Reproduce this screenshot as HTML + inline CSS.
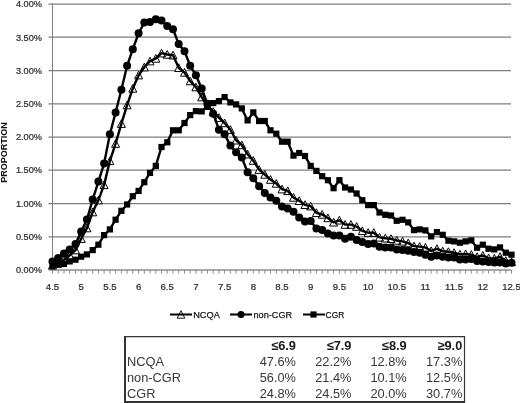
<!DOCTYPE html>
<html><head><meta charset="utf-8"><style>
html,body{margin:0;padding:0;background:#fff;width:520px;height:403px;overflow:hidden;font-family:"Liberation Sans", sans-serif;}
svg{display:block;}
#w{will-change:transform;width:520px;height:403px;}
</style></head><body>
<div id="w"><svg width="520" height="403" viewBox="0 0 520 403">
<g stroke="#7e7e7e" stroke-width="1.25">
<line x1="48.5" y1="236.8" x2="511" y2="236.8"/><line x1="48.5" y1="203.5" x2="511" y2="203.5"/><line x1="48.5" y1="170.2" x2="511" y2="170.2"/><line x1="48.5" y1="137.0" x2="511" y2="137.0"/><line x1="48.5" y1="103.8" x2="511" y2="103.8"/><line x1="48.5" y1="70.5" x2="511" y2="70.5"/><line x1="48.5" y1="37.2" x2="511" y2="37.2"/><line x1="48.5" y1="4.0" x2="511" y2="4.0"/>
</g>
<g stroke="#8c8c8c" stroke-width="1.3">
<line x1="48.5" y1="270" x2="511" y2="270"/>
<path d="M52.5 270v3.6 M58.2 270v3.6 M64.0 270v3.6 M69.7 270v3.6 M75.5 270v3.6 M81.2 270v3.6 M86.9 270v3.6 M92.7 270v3.6 M98.4 270v3.6 M104.1 270v3.6 M109.9 270v3.6 M115.6 270v3.6 M121.4 270v3.6 M127.1 270v3.6 M132.8 270v3.6 M138.6 270v3.6 M144.3 270v3.6 M150.0 270v3.6 M155.8 270v3.6 M161.5 270v3.6 M167.2 270v3.6 M173.0 270v3.6 M178.7 270v3.6 M184.5 270v3.6 M190.2 270v3.6 M195.9 270v3.6 M201.7 270v3.6 M207.4 270v3.6 M213.2 270v3.6 M218.9 270v3.6 M224.6 270v3.6 M230.4 270v3.6 M236.1 270v3.6 M241.8 270v3.6 M247.6 270v3.6 M253.3 270v3.6 M259.1 270v3.6 M264.8 270v3.6 M270.5 270v3.6 M276.3 270v3.6 M282.0 270v3.6 M287.7 270v3.6 M293.5 270v3.6 M299.2 270v3.6 M305.0 270v3.6 M310.7 270v3.6 M316.4 270v3.6 M322.2 270v3.6 M327.9 270v3.6 M333.6 270v3.6 M339.4 270v3.6 M345.1 270v3.6 M350.9 270v3.6 M356.6 270v3.6 M362.3 270v3.6 M368.1 270v3.6 M373.8 270v3.6 M379.5 270v3.6 M385.3 270v3.6 M391.0 270v3.6 M396.8 270v3.6 M402.5 270v3.6 M408.2 270v3.6 M414.0 270v3.6 M419.7 270v3.6 M425.4 270v3.6 M431.2 270v3.6 M436.9 270v3.6 M442.7 270v3.6 M448.4 270v3.6 M454.1 270v3.6 M459.9 270v3.6 M465.6 270v3.6 M471.3 270v3.6 M477.1 270v3.6 M482.8 270v3.6 M488.6 270v3.6 M494.3 270v3.6 M500.0 270v3.6 M505.8 270v3.6 M511.5 270v3.6" stroke-width="1"/>
</g>
<line x1="52.5" y1="3.2" x2="52.5" y2="270" stroke="#808080" stroke-width="1"/>
<g font-family="Liberation Sans, sans-serif" font-size="9.2" fill="#2a2a2a" stroke="#2a2a2a" stroke-width="0.22" text-anchor="end">
<text x="42" y="273.2">0.00%</text><text x="42" y="239.9">0.50%</text><text x="42" y="206.7">1.00%</text><text x="42" y="173.4">1.50%</text><text x="42" y="140.2">2.00%</text><text x="42" y="107.0">2.50%</text><text x="42" y="73.7">3.00%</text><text x="42" y="40.5">3.50%</text><text x="42" y="7.2">4.00%</text>
</g>
<g font-family="Liberation Sans, sans-serif" font-size="9.6" fill="#2a2a2a" stroke="#2a2a2a" stroke-width="0.22" text-anchor="middle">
<text x="52.5" y="290.4">4.5</text><text x="81.2" y="290.4">5</text><text x="109.9" y="290.4">5.5</text><text x="138.6" y="290.4">6</text><text x="167.2" y="290.4">6.5</text><text x="195.9" y="290.4">7</text><text x="224.6" y="290.4">7.5</text><text x="253.3" y="290.4">8</text><text x="282.0" y="290.4">8.5</text><text x="310.7" y="290.4">9</text><text x="339.4" y="290.4">9.5</text><text x="368.1" y="290.4">10</text><text x="396.8" y="290.4">10.5</text><text x="425.4" y="290.4">11</text><text x="454.1" y="290.4">11.5</text><text x="482.8" y="290.4">12</text><text x="511.5" y="290.4">12.5</text>
</g>
<text transform="translate(7.3,152.6) rotate(-90)" font-family="Liberation Sans, sans-serif" font-size="9" font-weight="bold" fill="#111" text-anchor="middle">PROPORTION</text>
<g fill="#fff" stroke="#000" stroke-width="1"><path d="M52.5 261.3L56.5 269.0L48.5 269.0ZM58.2 259.4L62.2 267.1L54.2 267.1ZM64.0 256.0L68.0 263.7L60.0 263.7ZM69.7 251.4L73.7 259.1L65.7 259.1ZM75.5 246.1L79.5 253.8L71.5 253.8ZM81.2 234.7L85.2 242.4L77.2 242.4ZM86.9 224.1L90.9 231.8L82.9 231.8ZM92.7 208.1L96.7 215.8L88.7 215.8ZM98.4 196.2L102.4 203.9L94.4 203.9ZM104.1 180.9L108.1 188.6L100.1 188.6ZM109.9 156.9L113.9 164.6L105.9 164.6ZM115.6 139.7L119.6 147.3L111.6 147.3ZM121.4 119.7L125.4 127.4L117.4 127.4ZM127.1 101.1L131.1 108.8L123.1 108.8ZM132.8 84.5L136.8 92.2L128.8 92.2ZM138.6 71.2L142.6 78.9L134.6 78.9ZM144.3 63.2L148.3 70.9L140.3 70.9ZM150.0 57.2L154.0 64.9L146.0 64.9ZM155.8 54.5L159.8 62.2L151.8 62.2ZM161.5 49.2L165.5 56.9L157.5 56.9ZM167.2 50.5L171.2 58.2L163.2 58.2ZM173.0 51.2L177.0 58.9L169.0 58.9ZM178.7 63.8L182.7 71.5L174.7 71.5ZM184.5 68.5L188.5 76.2L180.5 76.2ZM190.2 77.1L194.2 84.8L186.2 84.8ZM195.9 83.1L199.9 90.8L191.9 90.8ZM201.7 93.1L205.7 100.8L197.7 100.8ZM207.4 101.7L211.4 109.4L203.4 109.4ZM213.2 107.7L217.2 115.4L209.2 115.4ZM218.9 113.7L222.9 121.4L214.9 121.4ZM224.6 119.0L228.6 126.7L220.6 126.7ZM230.4 125.7L234.4 133.4L226.4 133.4ZM236.1 136.3L240.1 144.0L232.1 144.0ZM241.8 141.0L245.8 148.7L237.8 148.7ZM247.6 150.3L251.6 158.0L243.6 158.0ZM253.3 156.6L257.3 164.3L249.3 164.3ZM259.1 165.7L263.1 173.4L255.1 173.4ZM264.8 170.5L268.8 178.2L260.8 178.2ZM270.5 175.6L274.5 183.3L266.5 183.3ZM276.3 179.6L280.3 187.2L272.3 187.2ZM282.0 185.2L286.0 192.9L278.0 192.9ZM287.7 186.9L291.7 194.6L283.7 194.6ZM293.5 193.5L297.5 201.2L289.5 201.2ZM299.2 196.8L303.2 204.5L295.2 204.5ZM305.0 200.8L309.0 208.5L301.0 208.5ZM310.7 202.2L314.7 209.9L306.7 209.9ZM316.4 208.8L320.4 216.5L312.4 216.5ZM322.2 210.5L326.2 218.2L318.2 218.2ZM327.9 214.0L331.9 221.7L323.9 221.7ZM333.6 218.3L337.6 226.0L329.6 226.0ZM339.4 216.3L343.4 224.0L335.4 224.0ZM345.1 220.6L349.1 228.3L341.1 228.3ZM350.9 220.6L354.9 228.3L346.9 228.3ZM356.6 222.6L360.6 230.3L352.6 230.3ZM362.3 226.9L366.3 234.6L358.3 234.6ZM368.1 228.7L372.1 236.4L364.1 236.4ZM373.8 228.7L377.8 236.4L369.8 236.4ZM379.5 233.4L383.5 241.1L375.5 241.1ZM385.3 234.3L389.3 242.0L381.3 242.0ZM391.0 234.8L395.0 242.5L387.0 242.5ZM396.8 236.5L400.8 244.2L392.8 244.2ZM402.5 237.4L406.5 245.1L398.5 245.1ZM408.2 239.1L412.2 246.8L404.2 246.8ZM414.0 242.1L418.0 249.8L410.0 249.8ZM419.7 242.6L423.7 250.3L415.7 250.3ZM425.4 243.5L429.4 251.2L421.4 251.2ZM431.2 246.9L435.2 254.6L427.2 254.6ZM436.9 244.8L440.9 252.5L432.9 252.5ZM442.7 247.2L446.7 254.9L438.7 254.9ZM448.4 247.8L452.4 255.5L444.4 255.5ZM454.1 248.7L458.1 256.4L450.1 256.4ZM459.9 250.4L463.9 258.1L455.9 258.1ZM465.6 250.0L469.6 257.7L461.6 257.7ZM471.3 250.6L475.3 258.3L467.3 258.3ZM477.1 252.8L481.1 260.5L473.1 260.5ZM482.8 251.5L486.8 259.2L478.8 259.2ZM488.6 254.1L492.6 261.8L484.6 261.8ZM494.3 254.5L498.3 262.2L490.3 262.2ZM500.0 252.8L504.0 260.5L496.0 260.5ZM505.8 256.7L509.8 264.4L501.8 264.4ZM511.5 258.0L515.5 265.7L507.5 265.7Z"/></g>
<polyline points="52.5,265.3 58.2,263.4 64.0,260.0 69.7,255.4 75.5,250.1 81.2,238.7 86.9,228.1 92.7,212.1 98.4,200.2 104.1,184.9 109.9,160.9 115.6,143.7 121.4,123.7 127.1,105.1 132.8,88.5 138.6,75.2 144.3,67.2 150.0,61.2 155.8,58.5 161.5,53.2 167.2,54.5 173.0,55.2 178.7,67.8 184.5,72.5 190.2,81.1 195.9,87.1 201.7,97.1 207.4,105.7 213.2,111.7 218.9,117.7 224.6,123.0 230.4,129.7 236.1,140.3 241.8,145.0 247.6,154.3 253.3,160.6 259.1,169.7 264.8,174.5 270.5,179.6 276.3,183.6 282.0,189.2 287.7,190.9 293.5,197.5 299.2,200.8 305.0,204.8 310.7,206.2 316.4,212.8 322.2,214.5 327.9,218.0 333.6,222.3 339.4,220.3 345.1,224.6 350.9,224.6 356.6,226.6 362.3,230.9 368.1,232.7 373.8,232.7 379.5,237.4 385.3,238.3 391.0,238.8 396.8,240.5 402.5,241.4 408.2,243.1 414.0,246.1 419.7,246.6 425.4,247.5 431.2,250.9 436.9,248.8 442.7,251.2 448.4,251.8 454.1,252.7 459.9,254.4 465.6,254.0 471.3,254.6 477.1,256.8 482.8,255.5 488.6,258.1 494.3,258.5 500.0,256.8 505.8,260.7 511.5,262.0" fill="none" stroke="#000" stroke-width="2.4" stroke-linejoin="round"/>
<polyline points="52.5,261.4 58.2,258.0 64.0,253.4 69.7,249.4 75.5,244.1 81.2,231.4 86.9,219.5 92.7,199.5 98.4,181.6 104.1,163.6 109.9,134.3 115.6,112.4 121.4,89.8 127.1,65.8 132.8,49.2 138.6,33.3 144.3,22.6 150.0,22.0 155.8,19.3 161.5,20.6 167.2,25.9 173.0,29.3 178.7,43.9 184.5,51.2 190.2,65.8 195.9,75.2 201.7,88.5 207.4,103.8 213.2,113.7 218.9,129.7 224.6,134.3 230.4,145.6 236.1,152.3 241.8,157.6 247.6,172.2 253.3,178.2 259.1,186.2 264.8,192.9 270.5,197.5 276.3,200.8 282.0,206.5 287.7,208.5 293.5,211.8 299.2,217.5 305.0,221.5 310.7,221.1 316.4,228.4 322.2,230.1 327.9,233.4 333.6,235.4 339.4,235.4 345.1,238.7 350.9,236.8 356.6,240.1 362.3,242.1 368.1,244.1 373.8,243.4 379.5,246.7 385.3,247.4 391.0,247.4 396.8,249.4 402.5,250.1 408.2,250.7 414.0,252.0 419.7,252.7 425.4,254.7 431.2,256.7 436.9,255.4 442.7,256.7 448.4,257.4 454.1,257.4 459.9,259.4 465.6,259.4 471.3,259.0 477.1,261.0 482.8,261.4 488.6,262.0 494.3,262.4 500.0,262.4 505.8,263.4 511.5,262.7" fill="none" stroke="#000" stroke-width="2.4" stroke-linejoin="round"/>
<g fill="#000"><circle cx="52.5" cy="261.4" r="4.0"/><circle cx="58.2" cy="258.0" r="4.0"/><circle cx="64.0" cy="253.4" r="4.0"/><circle cx="69.7" cy="249.4" r="4.0"/><circle cx="75.5" cy="244.1" r="4.0"/><circle cx="81.2" cy="231.4" r="4.0"/><circle cx="86.9" cy="219.5" r="4.0"/><circle cx="92.7" cy="199.5" r="4.0"/><circle cx="98.4" cy="181.6" r="4.0"/><circle cx="104.1" cy="163.6" r="4.0"/><circle cx="109.9" cy="134.3" r="4.0"/><circle cx="115.6" cy="112.4" r="4.0"/><circle cx="121.4" cy="89.8" r="4.0"/><circle cx="127.1" cy="65.8" r="4.0"/><circle cx="132.8" cy="49.2" r="4.0"/><circle cx="138.6" cy="33.3" r="4.0"/><circle cx="144.3" cy="22.6" r="4.0"/><circle cx="150.0" cy="22.0" r="4.0"/><circle cx="155.8" cy="19.3" r="4.0"/><circle cx="161.5" cy="20.6" r="4.0"/><circle cx="167.2" cy="25.9" r="4.0"/><circle cx="173.0" cy="29.3" r="4.0"/><circle cx="178.7" cy="43.9" r="4.0"/><circle cx="184.5" cy="51.2" r="4.0"/><circle cx="190.2" cy="65.8" r="4.0"/><circle cx="195.9" cy="75.2" r="4.0"/><circle cx="201.7" cy="88.5" r="4.0"/><circle cx="207.4" cy="103.8" r="4.0"/><circle cx="213.2" cy="113.7" r="4.0"/><circle cx="218.9" cy="129.7" r="4.0"/><circle cx="224.6" cy="134.3" r="4.0"/><circle cx="230.4" cy="145.6" r="4.0"/><circle cx="236.1" cy="152.3" r="4.0"/><circle cx="241.8" cy="157.6" r="4.0"/><circle cx="247.6" cy="172.2" r="4.0"/><circle cx="253.3" cy="178.2" r="4.0"/><circle cx="259.1" cy="186.2" r="4.0"/><circle cx="264.8" cy="192.9" r="4.0"/><circle cx="270.5" cy="197.5" r="4.0"/><circle cx="276.3" cy="200.8" r="4.0"/><circle cx="282.0" cy="206.5" r="4.0"/><circle cx="287.7" cy="208.5" r="4.0"/><circle cx="293.5" cy="211.8" r="4.0"/><circle cx="299.2" cy="217.5" r="4.0"/><circle cx="305.0" cy="221.5" r="4.0"/><circle cx="310.7" cy="221.1" r="4.0"/><circle cx="316.4" cy="228.4" r="4.0"/><circle cx="322.2" cy="230.1" r="4.0"/><circle cx="327.9" cy="233.4" r="4.0"/><circle cx="333.6" cy="235.4" r="4.0"/><circle cx="339.4" cy="235.4" r="4.0"/><circle cx="345.1" cy="238.7" r="4.0"/><circle cx="350.9" cy="236.8" r="4.0"/><circle cx="356.6" cy="240.1" r="4.0"/><circle cx="362.3" cy="242.1" r="4.0"/><circle cx="368.1" cy="244.1" r="4.0"/><circle cx="373.8" cy="243.4" r="4.0"/><circle cx="379.5" cy="246.7" r="4.0"/><circle cx="385.3" cy="247.4" r="4.0"/><circle cx="391.0" cy="247.4" r="4.0"/><circle cx="396.8" cy="249.4" r="4.0"/><circle cx="402.5" cy="250.1" r="4.0"/><circle cx="408.2" cy="250.7" r="4.0"/><circle cx="414.0" cy="252.0" r="4.0"/><circle cx="419.7" cy="252.7" r="4.0"/><circle cx="425.4" cy="254.7" r="4.0"/><circle cx="431.2" cy="256.7" r="4.0"/><circle cx="436.9" cy="255.4" r="4.0"/><circle cx="442.7" cy="256.7" r="4.0"/><circle cx="448.4" cy="257.4" r="4.0"/><circle cx="454.1" cy="257.4" r="4.0"/><circle cx="459.9" cy="259.4" r="4.0"/><circle cx="465.6" cy="259.4" r="4.0"/><circle cx="471.3" cy="259.0" r="4.0"/><circle cx="477.1" cy="261.0" r="4.0"/><circle cx="482.8" cy="261.4" r="4.0"/><circle cx="488.6" cy="262.0" r="4.0"/><circle cx="494.3" cy="262.4" r="4.0"/><circle cx="500.0" cy="262.4" r="4.0"/><circle cx="505.8" cy="263.4" r="4.0"/><circle cx="511.5" cy="262.7" r="4.0"/></g>
<polyline points="52.5,266.2 58.2,264.7 64.0,264.0 69.7,261.4 75.5,259.7 81.2,256.7 86.9,254.4 92.7,250.1 98.4,244.7 104.1,235.1 109.9,229.4 115.6,219.7 121.4,210.8 127.1,204.5 132.8,196.2 138.6,190.9 144.3,182.2 150.0,172.9 155.8,165.9 161.5,147.0 167.2,142.3 173.0,130.3 178.7,130.3 184.5,123.0 190.2,115.1 195.9,111.1 201.7,111.4 207.4,106.4 213.2,103.1 218.9,101.1 224.6,97.1 230.4,102.4 236.1,104.4 241.8,108.4 247.6,120.4 253.3,112.4 259.1,121.0 264.8,121.0 270.5,130.3 276.3,133.7 282.0,141.7 287.7,141.7 293.5,155.6 299.2,153.0 305.0,156.0 310.7,165.9 316.4,170.9 322.2,176.2 327.9,180.2 333.6,188.2 339.4,180.2 345.1,187.5 350.9,189.5 356.6,193.5 362.3,200.2 368.1,205.1 373.8,205.1 379.5,212.5 385.3,214.8 391.0,215.5 396.8,220.8 402.5,219.8 408.2,222.4 414.0,230.1 419.7,229.4 425.4,230.4 431.2,236.4 436.9,232.1 442.7,234.8 448.4,240.7 454.1,241.4 459.9,242.7 465.6,241.4 471.3,240.4 477.1,247.7 482.8,244.7 488.6,248.7 494.3,249.4 500.0,247.4 505.8,252.7 511.5,254.7" fill="none" stroke="#000" stroke-width="2.4" stroke-linejoin="round"/>
<g fill="#000"><rect x="49.4" y="263.1" width="6.2" height="6.2"/><rect x="55.1" y="261.6" width="6.2" height="6.2"/><rect x="60.9" y="260.9" width="6.2" height="6.2"/><rect x="66.6" y="258.3" width="6.2" height="6.2"/><rect x="72.4" y="256.6" width="6.2" height="6.2"/><rect x="78.1" y="253.6" width="6.2" height="6.2"/><rect x="83.8" y="251.3" width="6.2" height="6.2"/><rect x="89.6" y="247.0" width="6.2" height="6.2"/><rect x="95.3" y="241.6" width="6.2" height="6.2"/><rect x="101.0" y="232.0" width="6.2" height="6.2"/><rect x="106.8" y="226.3" width="6.2" height="6.2"/><rect x="112.5" y="216.6" width="6.2" height="6.2"/><rect x="118.3" y="207.7" width="6.2" height="6.2"/><rect x="124.0" y="201.4" width="6.2" height="6.2"/><rect x="129.7" y="193.1" width="6.2" height="6.2"/><rect x="135.5" y="187.8" width="6.2" height="6.2"/><rect x="141.2" y="179.1" width="6.2" height="6.2"/><rect x="146.9" y="169.8" width="6.2" height="6.2"/><rect x="152.7" y="162.8" width="6.2" height="6.2"/><rect x="158.4" y="143.9" width="6.2" height="6.2"/><rect x="164.2" y="139.2" width="6.2" height="6.2"/><rect x="169.9" y="127.2" width="6.2" height="6.2"/><rect x="175.6" y="127.2" width="6.2" height="6.2"/><rect x="181.4" y="119.9" width="6.2" height="6.2"/><rect x="187.1" y="112.0" width="6.2" height="6.2"/><rect x="192.8" y="108.0" width="6.2" height="6.2"/><rect x="198.6" y="108.3" width="6.2" height="6.2"/><rect x="204.3" y="103.3" width="6.2" height="6.2"/><rect x="210.1" y="100.0" width="6.2" height="6.2"/><rect x="215.8" y="98.0" width="6.2" height="6.2"/><rect x="221.5" y="94.0" width="6.2" height="6.2"/><rect x="227.3" y="99.3" width="6.2" height="6.2"/><rect x="233.0" y="101.3" width="6.2" height="6.2"/><rect x="238.7" y="105.3" width="6.2" height="6.2"/><rect x="244.5" y="117.3" width="6.2" height="6.2"/><rect x="250.2" y="109.3" width="6.2" height="6.2"/><rect x="256.0" y="117.9" width="6.2" height="6.2"/><rect x="261.7" y="117.9" width="6.2" height="6.2"/><rect x="267.4" y="127.2" width="6.2" height="6.2"/><rect x="273.2" y="130.6" width="6.2" height="6.2"/><rect x="278.9" y="138.6" width="6.2" height="6.2"/><rect x="284.6" y="138.6" width="6.2" height="6.2"/><rect x="290.4" y="152.5" width="6.2" height="6.2"/><rect x="296.1" y="149.9" width="6.2" height="6.2"/><rect x="301.9" y="152.9" width="6.2" height="6.2"/><rect x="307.6" y="162.8" width="6.2" height="6.2"/><rect x="313.3" y="167.8" width="6.2" height="6.2"/><rect x="319.1" y="173.1" width="6.2" height="6.2"/><rect x="324.8" y="177.1" width="6.2" height="6.2"/><rect x="330.5" y="185.1" width="6.2" height="6.2"/><rect x="336.3" y="177.1" width="6.2" height="6.2"/><rect x="342.0" y="184.4" width="6.2" height="6.2"/><rect x="347.8" y="186.4" width="6.2" height="6.2"/><rect x="353.5" y="190.4" width="6.2" height="6.2"/><rect x="359.2" y="197.1" width="6.2" height="6.2"/><rect x="365.0" y="202.0" width="6.2" height="6.2"/><rect x="370.7" y="202.0" width="6.2" height="6.2"/><rect x="376.4" y="209.4" width="6.2" height="6.2"/><rect x="382.2" y="211.7" width="6.2" height="6.2"/><rect x="387.9" y="212.4" width="6.2" height="6.2"/><rect x="393.6" y="217.7" width="6.2" height="6.2"/><rect x="399.4" y="216.7" width="6.2" height="6.2"/><rect x="405.1" y="219.3" width="6.2" height="6.2"/><rect x="410.9" y="227.0" width="6.2" height="6.2"/><rect x="416.6" y="226.3" width="6.2" height="6.2"/><rect x="422.3" y="227.3" width="6.2" height="6.2"/><rect x="428.1" y="233.3" width="6.2" height="6.2"/><rect x="433.8" y="229.0" width="6.2" height="6.2"/><rect x="439.6" y="231.7" width="6.2" height="6.2"/><rect x="445.3" y="237.6" width="6.2" height="6.2"/><rect x="451.0" y="238.3" width="6.2" height="6.2"/><rect x="456.8" y="239.6" width="6.2" height="6.2"/><rect x="462.5" y="238.3" width="6.2" height="6.2"/><rect x="468.2" y="237.3" width="6.2" height="6.2"/><rect x="474.0" y="244.6" width="6.2" height="6.2"/><rect x="479.7" y="241.6" width="6.2" height="6.2"/><rect x="485.4" y="245.6" width="6.2" height="6.2"/><rect x="491.2" y="246.3" width="6.2" height="6.2"/><rect x="496.9" y="244.3" width="6.2" height="6.2"/><rect x="502.7" y="249.6" width="6.2" height="6.2"/><rect x="508.4" y="251.6" width="6.2" height="6.2"/></g>
<!-- legend -->
<path d="M181 310.7L184.8 318.2L177.2 318.2Z" fill="#fff" stroke="#000" stroke-width="0.9"/>
<g stroke="#000" stroke-width="2">
<line x1="170" y1="314.5" x2="192" y2="314.5"/>
<line x1="230" y1="314.5" x2="252" y2="314.5"/>
<line x1="303" y1="314.5" x2="325" y2="314.5"/>
</g>
<circle cx="241" cy="314.5" r="3.6" fill="#000"/>
<rect x="310.4" y="311.4" width="6.2" height="6.2" fill="#000"/>
<g font-family="Liberation Sans, sans-serif" font-size="8.8" fill="#1a1a1a" stroke="#1a1a1a" stroke-width="0.25">
<text x="193.2" y="317.6" textLength="26.6" lengthAdjust="spacingAndGlyphs">NCQA</text>
<text x="253.5" y="317.6" textLength="38.6" lengthAdjust="spacingAndGlyphs">non-CGR</text>
<text x="325.6" y="317.6" textLength="18.6" lengthAdjust="spacingAndGlyphs">CGR</text>
</g>
<!-- table -->
<g stroke="#333">
<line x1="124" y1="336.6" x2="465.1" y2="336.6" stroke-width="1.3"/>
<line x1="125" y1="336" x2="125" y2="403" stroke-width="2"/>
<line x1="464.5" y1="336" x2="464.5" y2="403" stroke-width="1.2"/>
<line x1="124" y1="402" x2="465.1" y2="402" stroke-width="2"/>
</g>
<g font-family="Liberation Sans, sans-serif" font-size="12.8" fill="#383838">
<text x="127.0" y="365.6">NCQA</text>
<text x="127.0" y="381.9">non-CGR</text>
<text x="127.0" y="398.1">CGR</text>
</g>
<g font-family="Liberation Sans, sans-serif" font-size="12.8" font-weight="bold" fill="#1a1a1a" text-anchor="end">
<text x="296" y="349.5">≤6.9</text>
<text x="351.5" y="349.5">≤7.9</text>
<text x="406.7" y="349.5">≤8.9</text>
<text x="462.3" y="349.5">≥9.0</text>
</g>
<g font-family="Liberation Sans, sans-serif" font-size="12.8" fill="#383838" text-anchor="end">
<text x="296" y="365.6">47.6%</text><text x="351.5" y="365.6">22.2%</text><text x="406.7" y="365.6">12.8%</text><text x="462.3" y="365.6">17.3%</text>
<text x="296" y="381.9">56.0%</text><text x="351.5" y="381.9">21.4%</text><text x="406.7" y="381.9">10.1%</text><text x="462.3" y="381.9">12.5%</text>
<text x="296" y="398.1">24.8%</text><text x="351.5" y="398.1">24.5%</text><text x="406.7" y="398.1">20.0%</text><text x="462.3" y="398.1">30.7%</text>
</g>
</svg></div>
</body></html>
